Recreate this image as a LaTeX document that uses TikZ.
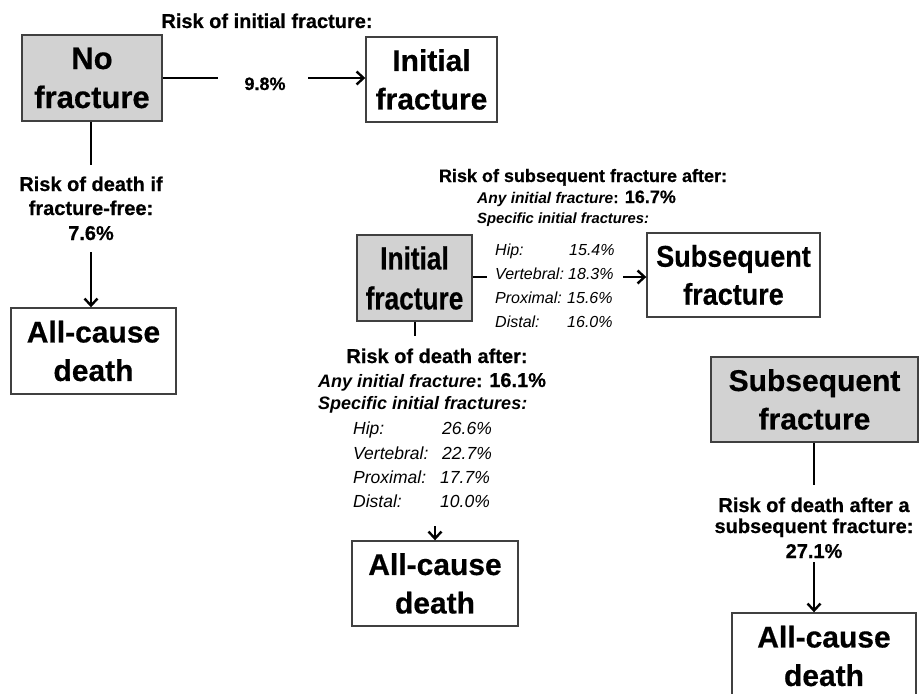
\documentclass[tikz,border=0pt]{standalone}
\usepackage{fontspec}
\setmainfont[BoldFeatures={FakeBold=0.5}]{Liberation Sans}
\newfontfamily\narrowA[FakeStretch=0.82,BoldFeatures={FakeBold=0.5}]{Liberation Sans}
\newfontfamily\narrowB[FakeStretch=0.9,BoldFeatures={FakeBold=0.5}]{Liberation Sans}
\usetikzlibrary{arrows.meta}
\begin{document}
\begin{tikzpicture}[x=1pt,y=-1pt,
  box/.style={draw=black!75, line width=1.4pt, align=center, inner sep=0pt, font=\fontsize{30}{38.5}\selectfont\bfseries},
  gbox/.style={box, fill=gray!35},
  conn/.style={line width=2.6pt, black},
  arr/.style={conn, -{Straight Barb[length=7pt,width=13pt,line width=2.4pt]}},
  lbl/.style={inner sep=0pt, anchor=base, font=\fontsize{20}{24}\selectfont\bfseries},
  slbl/.style={inner sep=0pt, anchor=base, font=\fontsize{18}{22}\selectfont\bfseries},
  ilbl/.style={inner sep=0pt, anchor=base west, font=\fontsize{#1}{#1}\selectfont\bfseries\itshape},
  rowt/.style={inner sep=0pt, anchor=base west, font=\fontsize{#1}{#1}\selectfont\itshape},
]
\useasboundingbox (0,0) rectangle (920,693);
\fill[white] (0,0) rectangle (920,693);

% boxes
\node[gbox, minimum width=140, minimum height=86, font=\fontsize{31}{39}\selectfont\bfseries] (nofrac) at (92,78) {No\\fracture};
\node[box, minimum width=131, minimum height=85] (init1) at (431.5,79.5) {Initial\\fracture};
\node[box, minimum width=165, minimum height=86] (death1) at (93.5,351) {All-cause\\death};
\node[gbox, minimum width=115, minimum height=86, font=\narrowA\fontsize{32}{40}\selectfont\bfseries] (init2) at (414.5,278) {Initial\\fracture};
\node[box, minimum width=173, minimum height=84, font=\narrowB\fontsize{30}{38}\selectfont\bfseries] (sub1) at (733.5,275) {Subsequent\\fracture};
\node[box, minimum width=166, minimum height=85] (death2) at (435,583.5) {All-cause\\death};
\node[gbox, minimum width=207, minimum height=85] (sub2) at (814.5,399.5) {Subsequent\\fracture};
\node[box, minimum width=184, minimum height=86] (death3) at (824,656) {All-cause\\death};

% top: no fracture -> initial fracture
\node[lbl] (riskinit) at (267,28) {Risk of initial fracture:};
\node[slbl] (p98) at (265,90) {9.8\%};
\coordinate (c1a) at (218,78);
\coordinate (c1b) at (308,78);
\draw[conn] (nofrac.east) -- (c1a);
\draw[arr] (c1b) -- (c1b -| init1.west);

% left: no fracture -> death
\coordinate (c2a) at (91,165);
\coordinate (c2b) at (91,252);
\draw[conn] (nofrac.south -| c2a) -- (c2a);
\node[lbl] (rd1a) at (91,191) {Risk of death if};
\node[lbl] (rd1b) at (91,215) {fracture-free:};
\node[lbl] (rd1c) at (91,240) {7.6\%};
\draw[arr] (c2b) -- (c2b |- death1.north);

% middle: initial -> subsequent
\node[slbl] (rsub) at (583,182) {Risk of subsequent fracture after:};
\node[ilbl=15.5] (anyA) at (477,203) {Any initial fracture\upshape:};
\node[slbl, anchor=base west] (anyAv) at (anyA.base east) {\,\,16.7\%};
\node[ilbl=14.8] (specA) at (477,223) {Specific initial fractures:};
\node[rowt=16] (hA) at (495,255) {Hip:};
\node[rowt=16] (vA) at (495,279) {Vertebral:};
\node[rowt=16] (pA) at (495,303) {Proximal:};
\node[rowt=16] (dA) at (495,327) {Distal:};
\node[rowt=16] (hAv) at (569,255) {15.4\%};
\node[rowt=16] (vAv) at (568,279) {18.3\%};
\node[rowt=16] (pAv) at (567,303) {15.6\%};
\node[rowt=16] (dAv) at (567,327) {16.0\%};
\coordinate (c3a) at (487,277);
\coordinate (c3b) at (623,277);
\draw[conn] (init2.east |- c3a) -- (c3a);
\draw[arr] (c3b) -- (c3b -| sub1.west);

% middle: initial -> death
\coordinate (c4a) at (415,336);
\draw[conn] (init2.south -| c4a) -- (c4a);
\node[lbl] (rdA) at (437,363) {Risk of death after:};
\node[ilbl=18] (anyB) at (318,387) {Any initial fracture\upshape:};
\node[lbl, anchor=base west] (anyBv) at (anyB.base east) {\,\,16.1\%};
\node[ilbl=18] (specB) at (318,409) {Specific initial fractures:};
\node[rowt=17.5] (hB) at (353,434) {Hip:};
\node[rowt=17.5] (vB) at (353,459) {Vertebral:};
\node[rowt=17.5] (pB) at (353,483) {Proximal:};
\node[rowt=17.5] (dB) at (353,507) {Distal:};
\node[rowt=17.5] (hBv) at (442,434) {26.6\%};
\node[rowt=17.5] (vBv) at (442,459) {22.7\%};
\node[rowt=17.5] (pBv) at (440,483) {17.7\%};
\node[rowt=17.5] (dBv) at (440,507) {10.0\%};
\coordinate (c5a) at (435,526);
\draw[arr] (c5a) -- (c5a |- death2.north);

% right: subsequent -> death
\coordinate (c6a) at (814,485);
\coordinate (c6b) at (814,562);
\draw[conn] (sub2.south -| c6a) -- (c6a);
\node[lbl] (rdS1) at (814,512) {Risk of death after a};
\node[lbl] (rdS2) at (814,533) {subsequent fracture:};
\node[lbl] (rdS3) at (814,558) {27.1\%};
\draw[arr] (c6b) -- (c6b |- death3.north);
\end{tikzpicture}
\end{document}
